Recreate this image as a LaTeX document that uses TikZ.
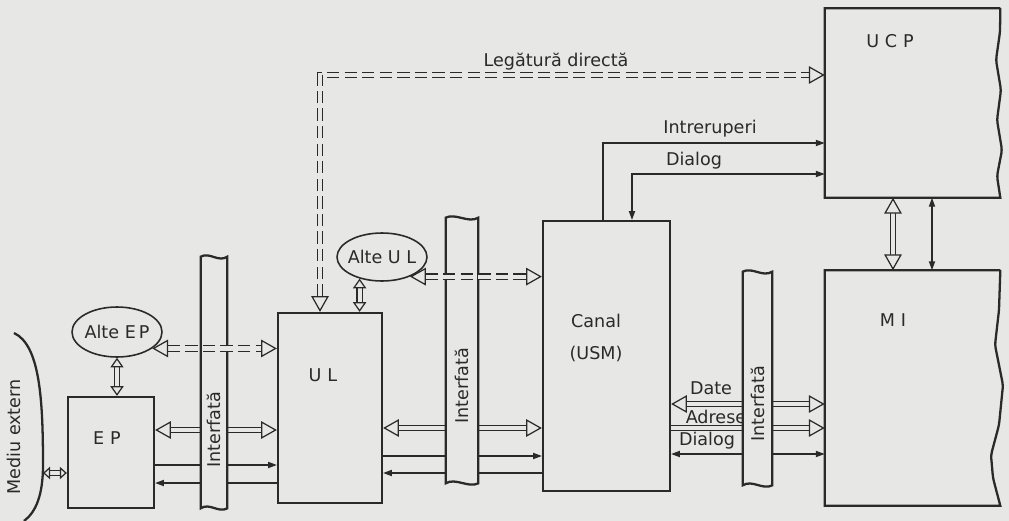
\documentclass[tikz,border=0pt]{standalone}
\usepackage{fontspec}
\setmainfont{DejaVu Sans}
\usepackage{xcolor}
\usetikzlibrary{calc,arrows.meta,shapes.geometric}

\definecolor{paper}{HTML}{E7E7E5}
\definecolor{ink}{HTML}{2A2A2A}

\tikzset{
  box/.style={draw=ink, line width=1.3pt, inner sep=0},
  blank/.style={inner sep=0},
  oval/.style={ellipse, draw=ink, line width=0.9pt, inner sep=0},
  ifbar/.style={fill=paper, inner sep=0},
  outline/.style={draw=ink, line width=1.3pt},
  conn/.style={draw=ink, line width=0.7pt},
  bus/.style={draw=ink, double=paper, double distance=2.4pt, line width=0.7pt},
  dbus/.style={bus, dash pattern=on 7pt off 3pt},
  hol/.style={-{Triangle[fill=paper, line width'=0.7pt, length=9pt, width=10pt]}},
  holl/.style={{Triangle[fill=paper, line width'=0.7pt, length=9pt, width=10pt]}-{Triangle[fill=paper, line width'=0.7pt, length=9pt, width=10pt]}},
  hollmid/.style={{Triangle[fill=paper, line width'=0.7pt, length=5.5pt, width=7.5pt]}-{Triangle[fill=paper, line width'=0.7pt, length=5.5pt, width=7.5pt]}},
  hollsmall/.style={{Triangle[fill=paper, line width'=0.7pt, length=4pt, width=7pt]}-{Triangle[fill=paper, line width'=0.7pt, length=4pt, width=7pt]}},
  onetip/.style={-{Triangle[length=5pt,width=3.5pt]}},
  twotips/.style={{Triangle[length=5pt,width=3.5pt]}-{Triangle[length=5pt,width=3.5pt]}},
  txt/.style={text=ink, inner sep=1pt},
}

\begin{document}
\begin{tikzpicture}[x=0.02cm, y=-0.02cm, font=\fontsize{10}{12}\selectfont]

\fill[paper] (0,0) rectangle (1009,521);
\useasboundingbox (0,0) rectangle (1009,521);

\node[blank, minimum width=3.5cm, minimum height=3.78cm] (ucp) at (912.5,103) {};
\node[blank, minimum width=3.5cm, minimum height=4.7cm] (mi) at (912.5,388) {};
\node[box, minimum width=2.54cm, minimum height=5.4cm] (canal) at (606.5,356) {};
\node[box, minimum width=2.08cm, minimum height=3.8cm] (ul) at (330,408) {};
\node[box, minimum width=1.72cm, minimum height=2.22cm] (ep) at (111,452.5) {};
\node[oval, minimum width=1.8cm, minimum height=0.96cm] (alteul) at (382,257) {};
\node[oval, minimum width=1.8cm, minimum height=1cm] (alteep) at (117,332) {};
\coordinate (med) at (43,473);

\draw[outline] (ucp.north east) -- (ucp.north west) -- (ucp.south west) -- (ucp.south east)
  [rounded corners=2pt] -- (997,176) -- (1002,150) -- (997,120) -- (1001,90) -- (996,60) -- (1000,32) -- (ucp.north east);
\draw[outline] (mi.north east) -- (mi.north west) -- (mi.south west) -- (mi.south east)
  [rounded corners=2pt] -- (993,478) -- (991,455) -- (999,425) -- (1003,385) -- (995,345) -- (999,310) -- (mi.north east);
\draw[outline] (14,333) .. controls (40,345) and (43,400) .. (43,465) .. controls (43,495) and (36,512) .. (24,521);

\node[txt] (ucptxt) at (890,41) {U\,\,C\,\,P};
\node[txt] (mitxt) at (893,320) {M\,\,I};
\node[txt, align=center] (canaltxt) at (596,338) {Canal\\[6pt](USM)};
\node[txt] (ultxt) at (323,375) {U\,\,L};
\node[txt] (eptxt) at (107,438) {E\,\,P};
\node[txt] (alteultxt) at (alteul) {Alte U L};
\node[txt] (alteeptxt) at (alteep) {Alte E\,P};
\node[txt, rotate=90] (medtxt) at (14,437) {Mediu extern};

\draw[bus,holl] (ucp.south -| 893,0) -- (mi.north -| 893,0);
\draw[conn,twotips] (ucp.south -| 932,0) -- (mi.north -| 932,0);

\draw[conn,onetip] ($(canal.north)+(-3.5,0)$) |- (ucp.west |- 0,143);
\draw[conn,twotips] (ucp.west |- 0,174) -| ($(canal.north)+(25.5,0)$);
\node[txt] (intrtxt) at (710,129) {Intreruperi};
\node[txt] (dlgtxt) at (694,161) {Dialog};

\draw[bus,holl] (canal.east |- 0,404) -- (mi.west |- 0,404);
\draw[bus,hol] (canal.east |- 0,428) -- (mi.west |- 0,428);
\draw[conn,twotips] (canal.east |- 0,454) -- (mi.west |- 0,454);
\node[txt] (datetxt) at (711,388) {Date};
\node[txt] (adrtxt) at (716,417) {Adrese};
\node[txt] (dlg2txt) at (707,441) {Dialog};

\draw[bus,holl] (ul.east |- 0,428) -- (canal.west |- 0,428);
\draw[conn,onetip] (ul.east |- 0,456) -- (canal.west |- 0,456);
\draw[conn,onetip] (canal.west |- 0,473) -- (ul.east |- 0,473);

\draw[bus,holl] (ep.east |- 0,430) -- (ul.west |- 0,430);
\draw[conn,onetip] (ep.east |- 0,465) -- (ul.west |- 0,465);
\draw[conn,onetip] (ul.west |- 0,483) -- (ep.east |- 0,483);

\draw[bus,hollmid] (alteep.south) -- (alteep.south |- ep.north);
\draw[bus,hollmid] (alteul.-136) -- (alteul.-136 |- ul.north);
\draw[bus,hollsmall] (med) -- (ep.west |- med);

\node[ifbar, minimum width=0.52cm, minimum height=5.02cm] (ifl) at (214,382.5) {};
\node[ifbar, minimum width=0.64cm, minimum height=5.3cm] (ifm) at (462,350.5) {};
\node[ifbar, minimum width=0.58cm, minimum height=4.26cm] (ifr) at (757.5,378.5) {};
\draw[outline] (ifl.north west) .. controls +(9,-5) and +(-9,6) .. (ifl.north east) -- (ifl.south east)
  .. controls +(-9,5) and +(9,-6) .. (ifl.south west) -- cycle;
\draw[outline] (ifm.north west) .. controls +(10,-5) and +(-10,6) .. (ifm.north east) -- (ifm.south east)
  .. controls +(-10,5) and +(10,-6) .. (ifm.south west) -- cycle;
\draw[outline] (ifr.north west) .. controls +(10,-5) and +(-10,6) .. (ifr.north east) -- (ifr.south east)
  .. controls +(-10,5) and +(10,-6) .. (ifr.south west) -- cycle;
\node[txt, rotate=90] (ifltxt) at (214,430) {Interfată};
\node[txt, rotate=90] (ifmtxt) at (462,386) {Interfată};
\node[txt, rotate=90] (ifrtxt) at (757.5,404) {Interfată};

\draw[dbus,holl] (alteep.-25) -- (alteep.-25 -| ul.west);
\draw[dbus,holl] (alteul.-35) -- (alteul.-35 -| canal.west);
\draw[dbus,holl] ($(ul.north)+(-10,0)$) |- (ucp.west |- 0,75);
\node[txt] (lgdtxt) at (556,62) {Legătură directă};

\end{tikzpicture}
\end{document}
